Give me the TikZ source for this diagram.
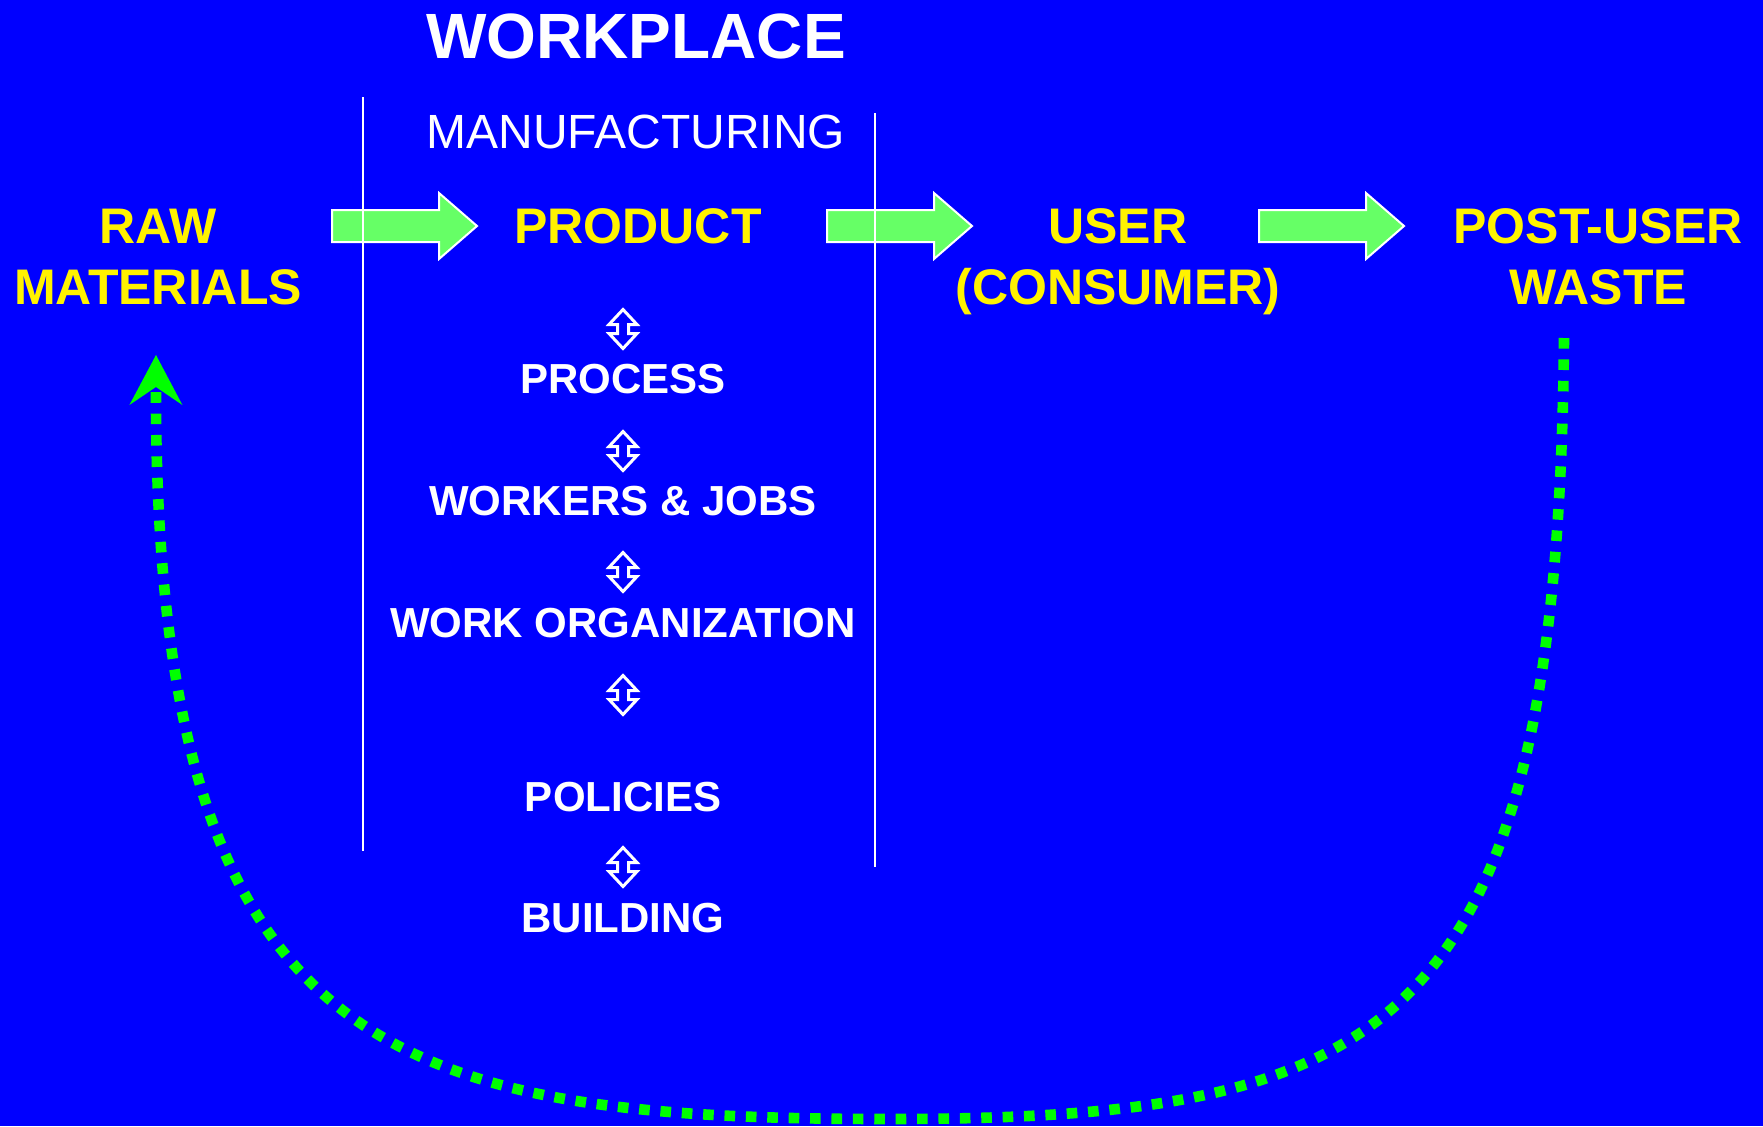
\documentclass[tikz,border=0pt]{standalone}
\usepackage{fontspec}
\setmainfont{Liberation Sans}
\usetikzlibrary{arrows.meta}

\definecolor{arrowgreen}{RGB}{102,255,102}
\definecolor{loopgreen}{RGB}{0,255,0}

\tikzset{
  stage/.style={text=yellow, font=\bfseries\fontsize{25}{30.5}\selectfont, align=center, anchor=base},
  layer/.style={text=white, font=\bfseries\fontsize{21}{25}\selectfont, anchor=base},
  flowarrow/.pic={
    \draw[white, line width=1pt, fill=arrowgreen] (0,-16) -- (107,-16) -- (107,-33) -- (145,0) -- (107,33) -- (107,16) -- (0,16) -- cycle;
  },
  updown/.pic={
    \draw[white, line width=1.5pt, line join=miter] (0,-19.5) -- (14,-4.5) -- (5.5,-4.5) -- (5.5,4.5) -- (14,4.5) -- (0,19.5) -- (-14,4.5) -- (-5.5,4.5) -- (-5.5,-4.5) -- (-14,-4.5) -- cycle;
  }
}

\begin{document}
\begin{tikzpicture}[x=0.5pt,y=-0.5pt]

\useasboundingbox (0,0) rectangle (1763,1126);
\fill[blue] (0,0) rectangle (1763,1126);

% flow from raw materials to waste
\pic (rawtoproduct) at (332,226) {flowarrow};
\pic (producttouser) at (827,226) {flowarrow};
\pic (usertowaste) at (1259,226) {flowarrow};

% workplace borders
\draw[white, line width=1pt] (363,97) -- (363,851);
\draw[white, line width=1pt] (875,113) -- (875,867);

\node[text=white, font=\bfseries\fontsize{32}{38}\selectfont, anchor=base] (workplace) at (636,58) {WORKPLACE};
\node[text=white, font=\fontsize{24}{29}\selectfont, anchor=base] (manufacturing) at (636,148) {MANUFACTURING};

% two-line labels sit on their last line
\node[stage] (raw) at (158,304) {RAW\\MATERIALS};
\node[stage] (product) at (638,243) {PRODUCT};
\node[stage] (user) at (1118,304) {USER\\(CONSUMER)};
\node[stage] (waste) at (1598,304) {POST-USER\\WASTE};

\node[layer] (process) at (623,393) {PROCESS};
\node[layer] (workers) at (623,515) {WORKERS \& JOBS};
\node[layer] (organization) at (623,637) {WORK ORGANIZATION};
\node[layer] (policies) at (623,811) {POLICIES};
\node[layer] (building) at (623,932) {BUILDING};

\pic at (623,329) {updown};
\pic at (623,451) {updown};
\pic at (623,572) {updown};
\pic at (623,695) {updown};
\pic at (623,867) {updown};

% recycling loop
\coordinate (wasteend) at (1564,338);
\coordinate (rawend) at (156,355);
\draw[loopgreen, line width=5.3pt, dash pattern=on 5.3pt off 5.4pt, -{Stealth[length=25pt,width=26.5pt,inset=9pt,line width=0pt]}]
  (wasteend) .. controls (1558,1037) and (1388,1119) .. (888,1119)
  .. controls (388,1119) and (155,1055) .. (rawend);

\end{tikzpicture}
\end{document}
